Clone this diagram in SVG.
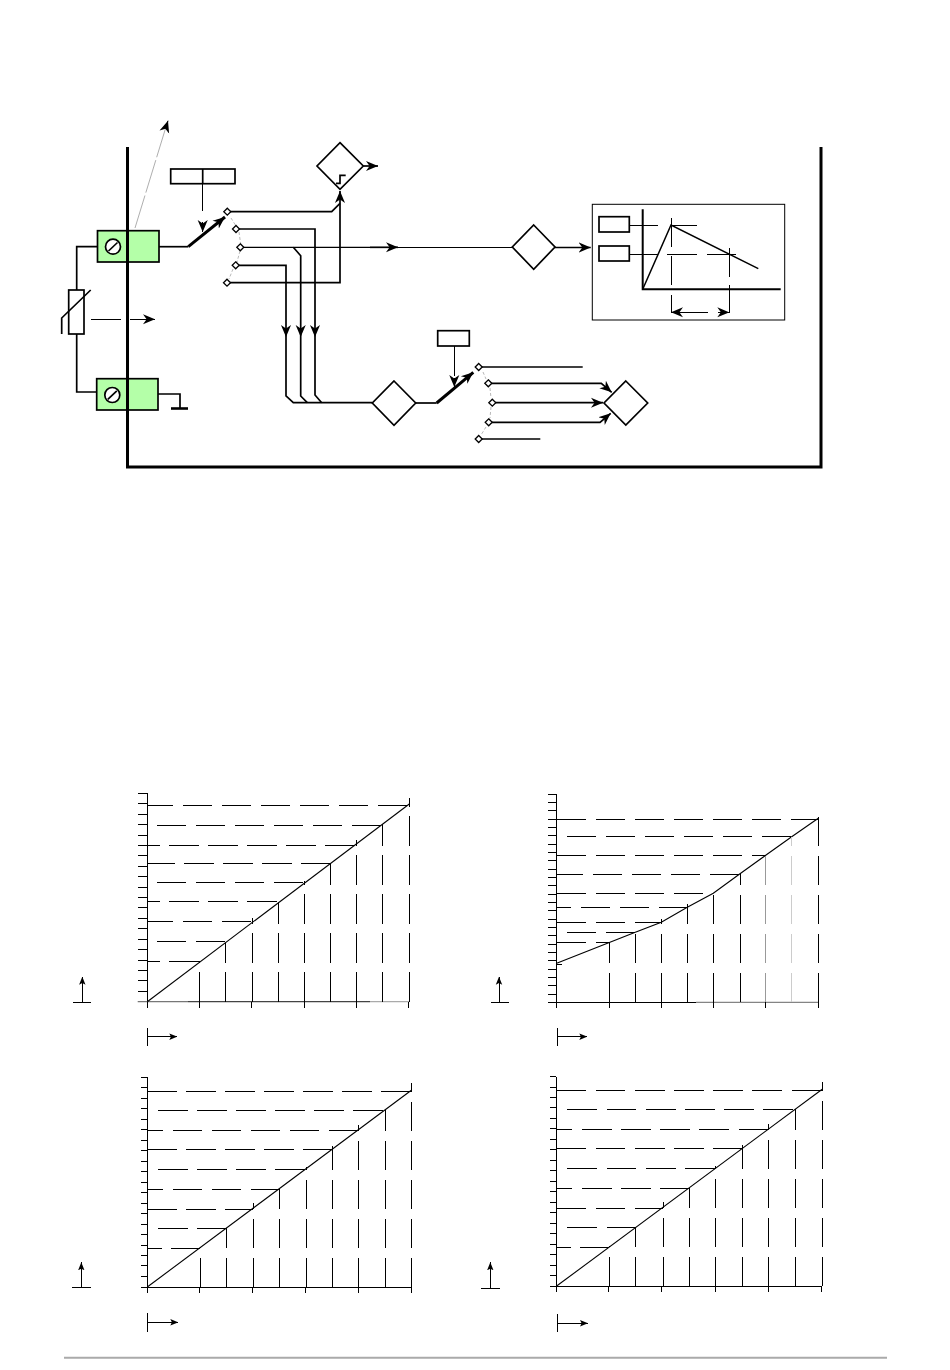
<svg xmlns="http://www.w3.org/2000/svg" xmlns:xlink="http://www.w3.org/1999/xlink" width="950" height="1370" viewBox="0 0 950 1370">
<style>
.w{fill:none;stroke:#000;stroke-width:1.7}
.f{fill:#fff;stroke:#000;stroke-width:1.7}
.t{fill:none;stroke:#000;stroke-width:1;shape-rendering:crispEdges}
.d{fill:none;stroke:#000;stroke-width:1.1}
.c{fill:#fff;stroke:#000;stroke-width:1.3}
.g{fill:#b4ffa8;stroke:#000;stroke-width:1.7}
.h{fill:none;stroke:#000;stroke-width:1;stroke-dasharray:29.7 9.3;shape-rendering:crispEdges}
.v{fill:none;stroke:#000;stroke-width:1;stroke-dasharray:29.5 9.5;shape-rendering:crispEdges}
.q{fill:none;stroke:#999;stroke-width:.7;stroke-dasharray:3 2}
</style>
<defs>
<marker id="a" markerUnits="userSpaceOnUse" viewBox="0 0 10 10" refX="10" refY="5" markerWidth="12" markerHeight="12" orient="auto"><path d="M0,0.8 L10,5 L0,9.2 L3,5z"/></marker>
<marker id="b" markerUnits="userSpaceOnUse" viewBox="0 0 10 10" refX="10" refY="5" markerWidth="8" markerHeight="8" orient="auto"><path d="M0,1 L10,5 L0,9 L2,5z"/></marker>
<g id="chartB">
<path class="t" d="M147.3,1077.3V1287H411.3M141,1077.3h6.3M141,1087.8h6.3M141,1098.3h6.3M141,1108.7h6.3M141,1119.2h6.3M141,1129.7h6.3M141,1140.2h6.3M141,1150.7h6.3M141,1161.1h6.3M141,1171.6h6.3M141,1182.1h6.3M141,1192.6h6.3M141,1203.1h6.3M141,1213.5h6.3M141,1224h6.3M141,1234.5h6.3M141,1245h6.3M141,1255.5h6.3M141,1265.9h6.3M141,1276.4h6.3M141,1287h6.3"/>
<path class="t" d="M147.3,1287v5.7M199.3,1287v5.7M252.3,1287v5.7M305.3,1287v5.7M358.3,1287v5.7M411.3,1287v5.7"/>
<path class="d" d="M147.3,1287L411.7,1090"/>
<path class="h" d="M147.3,1091H411.7"/>
<path class="h" d="M158.3,1110.3H385"/>
<path class="h" stroke-dashoffset="13.7" d="M147.3,1130.3H358"/>
<path class="h" d="M147.3,1149.3H332"/>
<path class="h" d="M158.3,1169.3H306"/>
<path class="h" stroke-dashoffset="13.7" d="M147.3,1189.3H279"/>
<path class="h" d="M147.3,1209.3H253"/>
<path class="h" d="M158.3,1228.3H226"/>
<path class="h" stroke-dashoffset="15" d="M147.3,1248.3H200"/>
<path class="v" d="M200.3,1287V1246.7"/>
<path class="v" d="M226.3,1287V1228"/>
<path class="v" d="M253.7,1287V1203"/>
<path class="v" d="M279.3,1287V1189"/>
<path class="v" d="M306,1287V1166.7"/>
<path class="v" d="M332.3,1287V1146"/>
<path class="v" d="M358.3,1287V1125"/>
<path class="v" d="M385.3,1287V1110"/>
<path class="v" d="M411.7,1287V1083"/>
</g>
</defs>
<g id="frame"><path d="M127.5,147V467H821V147" fill="none" stroke="#000" stroke-width="3"/></g>
<g id="connectors">
<path fill="none" stroke="#999" stroke-width=".8" stroke-dasharray="34 3" d="M135,228L165.5,128.5"/>
<path fill="none" stroke="#000" stroke-width="1" marker-end="url(#a)" d="M165.5,128.5L168,120.7"/>
<path class="w" d="M97,246.7H76.7V290M76.7,334V392H97"/>
<path class="t" d="M90.7,319.3H120.7M130,319.3H150"/>
<path class="t" marker-end="url(#a)" d="M140,319.3H155"/>
<path class="w" d="M158,394H180V408"/>
<path d="M171,408.5H188" stroke="#000" stroke-width="2.6" fill="none"/>
<path class="t" d="M202.7,183.7V211"/>
<path class="t" marker-end="url(#a)" d="M202.7,222V232"/>
<path class="w" d="M159,246.7H188.3"/>
<path d="M188.3,246.7L225,217" fill="none" stroke="#000" stroke-width="3" marker-end="url(#a)"/>
<path class="q" d="M231,218L236,226M239,232L240.5,243M240,251L237,262M233,269L229,279"/>
<path class="w" d="M227,211.7H331.7L340,203.3"/>
<path class="w" d="M236,229H315V395L321.7,402.7"/>
<path fill="none" stroke="#000" stroke-width="1.3" d="M240.3,247.3H370"/>
<path class="t" d="M370,247.3H512.3"/>
<path class="w" marker-end="url(#a)" d="M370,247.3H398"/>
<path class="w" d="M293.3,247.3L300.7,255.7V396L307.3,402.7"/>
<path class="w" d="M235.7,265.3H286V396L293.3,402.7H372.3"/>
<path class="w" marker-end="url(#a)" d="M227,282.7H340V191"/>
<path fill="none" marker-end="url(#a)" d="M286,325V337"/>
<path fill="none" marker-end="url(#a)" d="M300.7,325V337"/>
<path fill="none" marker-end="url(#a)" d="M315,325V337"/>
<path class="w" marker-end="url(#a)" d="M363.3,166H378"/>
<path class="w" marker-end="url(#a)" d="M555,247.5H590.7"/>
<path class="w" d="M415.7,403H436.7"/>
<path d="M436.7,403L473.3,372.3" fill="none" stroke="#000" stroke-width="3" marker-end="url(#a)"/>
<path class="t" d="M454.3,346V376"/>
<path class="t" marker-end="url(#a)" d="M454.3,378V387"/>
<path class="q" d="M483,372L486,379M490,388L491,398M491,407L490,418M486,427L481,435"/>
<path class="w" d="M478.7,367H582.7"/>
<path class="w" marker-end="url(#a)" d="M488.3,383.3H601.3L611.7,392.3"/>
<path class="w" marker-end="url(#a)" d="M492.3,402.7H603"/>
<path class="w" marker-end="url(#a)" d="M488.7,422.3H600L610.7,413.3"/>
<path fill="none" stroke="#000" stroke-width="1.3" d="M478.7,439H540.3"/>
</g>
<g id="terminal-top"><rect class="g" x="97.5" y="230.7" width="61.5" height="31.3"/><circle class="f" cx="113" cy="246.7" r="7.5"/><path class="w" d="M108.5,251L117.5,242.5"/></g>
<g id="terminal-bottom"><rect class="g" x="96.7" y="378.7" width="61.3" height="31.3"/><circle class="f" cx="112.3" cy="395" r="7.5"/><path class="w" d="M107.8,399.3L116.8,390.8"/></g>
<path d="M127.5,228V412" fill="none" stroke="#000" stroke-width="3"/>
<g id="resistor"><rect class="f" x="68.7" y="290" width="15.3" height="44"/><path class="w" d="M61.7,334V318L90.7,290"/></g>
<g id="selector-box"><rect class="f" x="170.7" y="169" width="64.3" height="14.7"/><path class="w" d="M202.7,169V183.7"/></g>
<g id="contacts-a">
<path class="c" d="M227.3,208.2l3.5,3.5l-3.5,3.5l-3.5,-3.5z"/>
<path class="c" d="M236,225.5l3.5,3.5l-3.5,3.5l-3.5,-3.5z"/>
<path class="c" d="M240.3,243.8l3.5,3.5l-3.5,3.5l-3.5,-3.5z"/>
<path class="c" d="M235.7,261.8l3.5,3.5l-3.5,3.5l-3.5,-3.5z"/>
<path class="c" d="M227,279.2l3.5,3.5l-3.5,3.5l-3.5,-3.5z"/>
</g>
<g id="comparator"><path class="f" d="M340,142.7L363.3,166L340,189.3L317,166z"/><path class="w" d="M336,183.3H340V175.3H345.7"/></g>
<g id="diamond-right"><path class="f" d="M533.7,225L555,247L533.7,269.3L512.3,247z"/></g>
<g id="diamond-lower"><path class="f" d="M394,381L415.7,403L394,425.3L372.3,403z"/></g>
<g id="diamond-sum"><path class="f" d="M625.8,381L647.7,403L625.8,425L604,403z"/></g>
<g id="selector-small"><rect class="f" x="437.7" y="330.7" width="31.6" height="15.3"/></g>
<g id="contacts-b">
<path class="c" d="M478.7,363.5l3.5,3.5l-3.5,3.5l-3.5,-3.5z"/>
<path class="c" d="M488.3,379.8l3.5,3.5l-3.5,3.5l-3.5,-3.5z"/>
<path class="c" d="M492.3,399.2l3.5,3.5l-3.5,3.5l-3.5,-3.5z"/>
<path class="c" d="M488.7,418.8l3.5,3.5l-3.5,3.5l-3.5,-3.5z"/>
<path class="c" d="M478.7,435.5l3.5,3.5l-3.5,3.5l-3.5,-3.5z"/>
</g>
<g id="ramp-panel">
<rect x="592.3" y="204.3" width="192.4" height="115.7" fill="#fff" stroke="#000" stroke-width="1"/>
<rect class="f" x="599" y="216.7" width="30.3" height="15.3"/>
<rect class="f" x="599" y="246" width="30.3" height="15"/>
<path d="M642.7,209.3V289.3H780.7" fill="none" stroke="#000" stroke-width="2"/>
<path d="M642.7,289.3L671,225L758.3,268.7" fill="none" stroke="#000" stroke-width="1.5"/>
<path class="t" d="M629.3,225H657.7M671,225H696.7M629.3,254.3H657.7M666.7,254.3H696.7M706.7,254.3H736"/>
<path class="t" d="M671,218V246.7M671,256V285M671,295V313M729.3,248V277M729.3,285V313"/>
<path class="t" marker-end="url(#a)" d="M707.7,312.3H671"/>
<path class="t" marker-end="url(#a)" d="M718,312.3H729.3"/>
</g>
<g id="chart-1">
<path class="t" d="M147.3,793.3V1001.7M137.7,793.3h9.6M137.7,803.7h9.6M137.7,814.1h9.6M137.7,824.6h9.6M137.7,835h9.6M137.7,845.4h9.6M137.7,855.8h9.6M137.7,866.2h9.6M137.7,876.7h9.6M137.7,887.1h9.6M137.7,897.5h9.6M137.7,907.9h9.6M137.7,918.3h9.6M137.7,928.8h9.6M137.7,939.2h9.6M137.7,949.6h9.6M137.7,960h9.6M137.7,970.4h9.6M137.7,980.9h9.6M137.7,991.3h9.6"/>
<path fill="none" stroke="#777" stroke-width="1.2" d="M137.7,1001.7H188"/>
<path fill="none" stroke="#444" stroke-width="1.2" d="M188,1001.7H370"/>
<path fill="none" stroke="#aaa" stroke-width="1.2" d="M370,1001.7H409.3"/>
<path class="t" d="M147.3,1001.7v6M199,1001.7v6M251.7,1001.7v6M304.3,1001.7v6M356.3,1001.7v6M408.7,1001.7v6"/>
<path class="d" d="M147.3,1001.7L409.3,804"/>
<path class="h" stroke-dashoffset="3.7" d="M147.3,805.3H409"/>
<path class="h" d="M156.7,825.3H382"/>
<path class="h" stroke-dashoffset="17" d="M147.3,845.3H356"/>
<path class="h" stroke-dashoffset="2" d="M147.3,863.3H330"/>
<path class="h" d="M156.7,882.3H304"/>
<path class="h" stroke-dashoffset="17" d="M147.3,901.3H278"/>
<path class="h" stroke-dashoffset="3.7" d="M147.3,921.3H252"/>
<path class="h" d="M156.7,941.3H225.7"/>
<path class="h" stroke-dashoffset="17" d="M147.3,961.3H199"/>
<path class="v" d="M199,1001.7V961"/>
<path class="v" d="M225.7,1001.7V943"/>
<path class="v" d="M252.3,1001.7V918"/>
<path class="v" d="M278.3,1001.7V902"/>
<path class="v" d="M304.3,1001.7V881"/>
<path class="v" d="M330.3,1001.7V863"/>
<path class="v" d="M356.3,1001.7V840"/>
<path class="v" d="M382.3,1001.7V824"/>
<path class="v" d="M409.3,1001.7V798"/>
<path class="t" d="M73.3,1002.3H90.7"/>
<path class="t" marker-end="url(#b)" d="M82.3,1002.3V976.7"/>
<path class="t" d="M147.3,1028.3V1045.7"/>
<path class="t" marker-end="url(#b)" d="M147.3,1036.7H177.3"/>
</g>
<g id="chart-2">
<path class="t" d="M556.7,794.3V1002.3M548.3,794.3h8.4M548.3,802.6h8.4M548.3,810.9h8.4M548.3,819.3h8.4M548.3,827.6h8.4M548.3,835.9h8.4M548.3,844.2h8.4M548.3,852.5h8.4M548.3,860.9h8.4M548.3,869.2h8.4M548.3,877.5h8.4M548.3,885.8h8.4M548.3,894.1h8.4M548.3,902.5h8.4M548.3,910.8h8.4M548.3,919.1h8.4M548.3,927.4h8.4M548.3,935.7h8.4M548.3,944.1h8.4M548.3,952.4h8.4M548.3,960.7h8.4M548.3,969h8.4M548.3,977.3h8.4M548.3,985.7h8.4M548.3,994h8.4M548.3,1002.3h8.4M556.7,964.5h5"/>
<path class="t" d="M556.7,1002.3H696"/>
<path fill="none" stroke="#666" stroke-width="1" d="M696,1002.3H818.7"/>
<path class="t" d="M556.7,1002.3v5.7M609,1002.3v5.7M661.3,1002.3v5.7M713.3,1002.3v5.7M765.7,1002.3v5.7M818.3,1002.3v5.7"/>
<path class="d" d="M556.7,963.3L635.3,932.3L661.3,922.3L687.3,907.3L713.3,893.3L740,873.7L765.7,855.3L791.7,836.7L818.3,818.3"/>
<path class="h" d="M556.7,819.3H818"/>
<path class="h" d="M566.7,836.7H791"/>
<path class="h" d="M556.7,855.3H765"/>
<path class="h" stroke-dashoffset="3" d="M556.7,874.3H740"/>
<path class="h" d="M556.7,893.3H704"/>
<path class="h" stroke-dashoffset="15" d="M556.7,907.3H687"/>
<path class="h" d="M556.7,922.3H661"/>
<path class="h" d="M566.7,932.3H635"/>
<path class="h" d="M556.7,942.3H609"/>
<path class="v" d="M609,1002.3V942"/>
<path class="v" d="M635.3,1002.3V932.3"/>
<path class="v" d="M661.3,1002.3V919.3"/>
<path class="v" d="M687.3,1002.3V904"/>
<path class="v" d="M713.3,1002.3V893.3"/>
<path class="v" d="M740,1002.3V874"/>
<path class="v" style="stroke:#999" d="M765.7,1002.3V855"/>
<path class="v" style="stroke:#ccc" d="M791.7,1002.3V836.7"/>
<path class="v" d="M818.3,1002.3V817.3"/>
<path class="t" d="M491,1002.3H508.7"/>
<path class="t" marker-end="url(#b)" d="M499,1002.3V976.7"/>
<path class="t" d="M557.3,1028.3V1045.7"/>
<path class="t" marker-end="url(#b)" d="M557.3,1036.7H587.3"/>
</g>
<g id="chart-3">
<use xlink:href="#chartB" href="#chartB"/>
<path class="t" d="M72,1287H90.7"/>
<path class="t" marker-end="url(#b)" d="M81.3,1287V1262.3"/>
<path class="t" d="M147.3,1313.3V1331.7"/>
<path class="t" marker-end="url(#b)" d="M147.3,1322.3H178.3"/>
</g>
<g id="chart-4">
<use xlink:href="#chartB" href="#chartB" transform="translate(556.3,-0.7) scale(1.0057,1) translate(-147.3,0)"/>
<path class="t" d="M481,1288.3H500"/>
<path class="t" marker-end="url(#b)" d="M490.3,1288.3V1262.3"/>
<path class="t" d="M557.3,1314V1332"/>
<path class="t" marker-end="url(#b)" d="M557.3,1323.3H588"/>
</g>
<g id="footer-rule"><path d="M64,1357.7H887" stroke="#aaa" stroke-width="2" fill="none"/></g>
</svg>
